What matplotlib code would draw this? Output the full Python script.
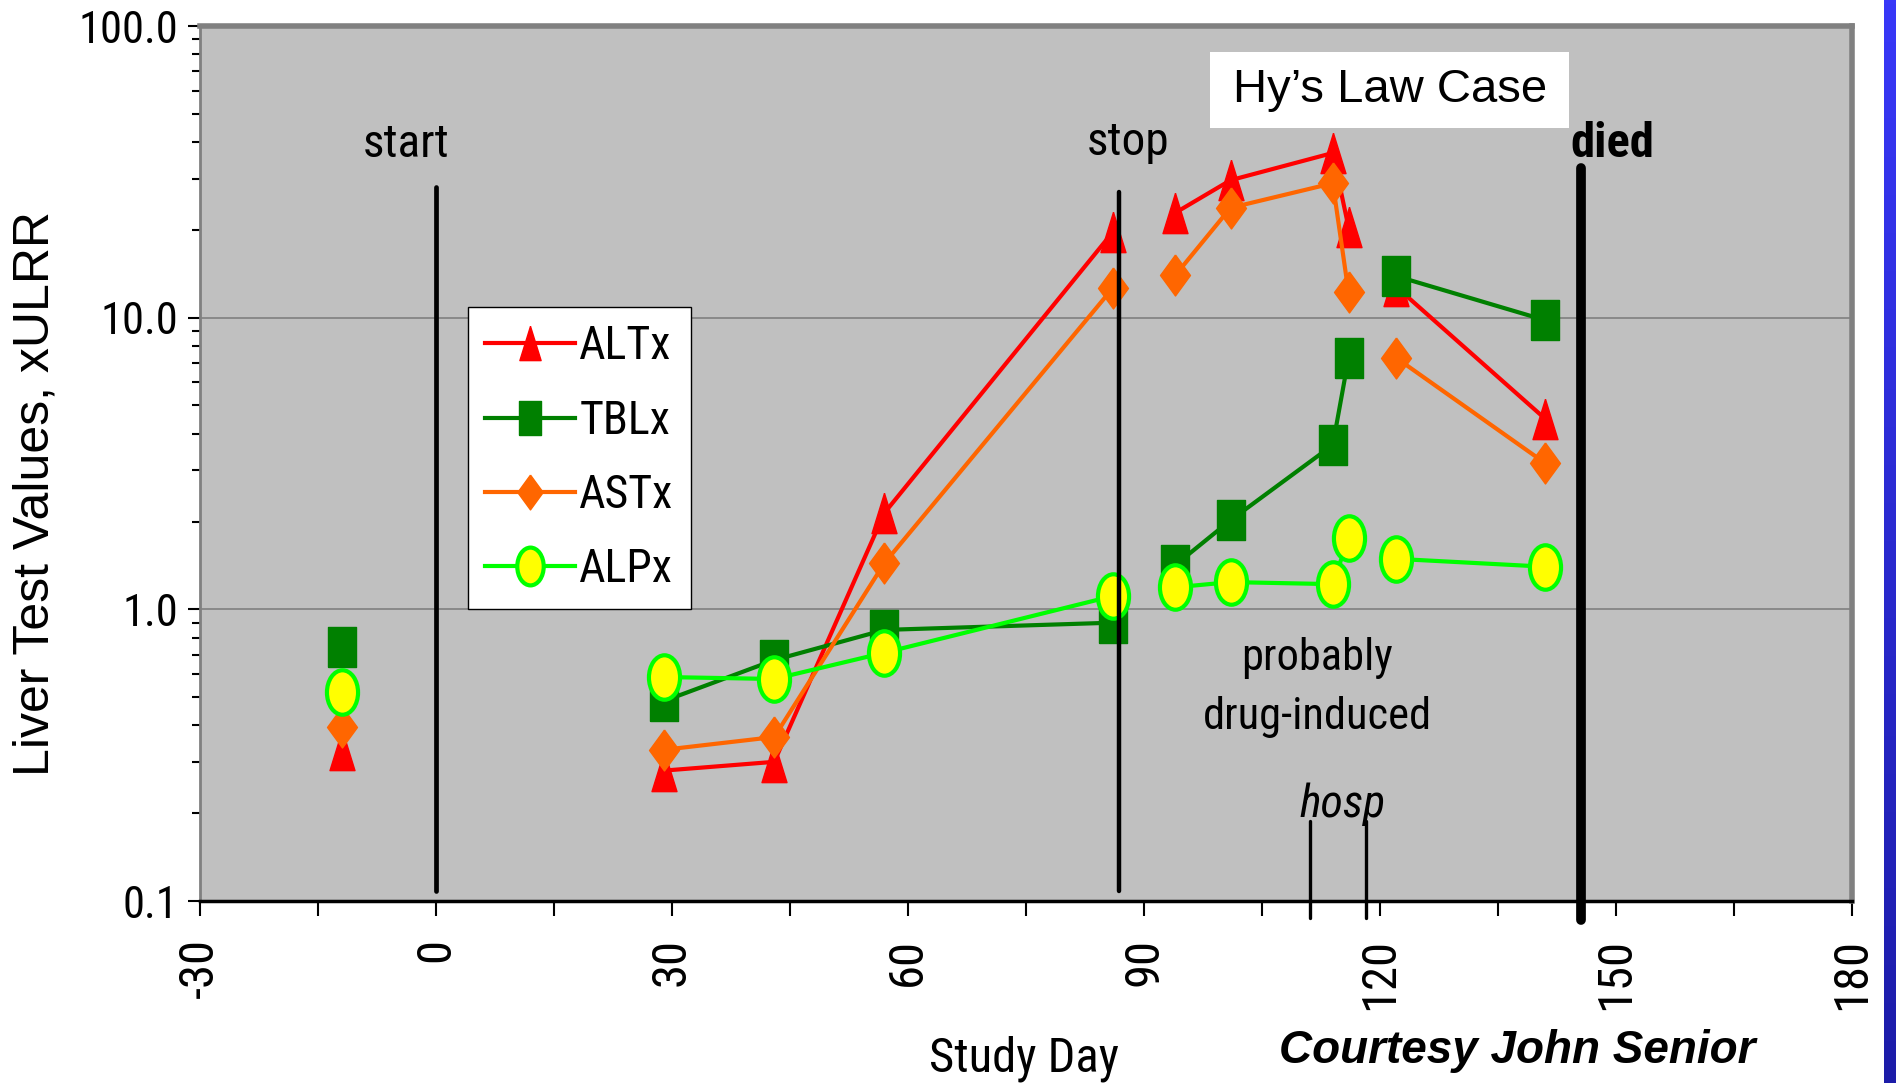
import numpy as np
import matplotlib
matplotlib.use('Agg')
import matplotlib.pyplot as plt
from matplotlib.path import Path
from matplotlib.transforms import Affine2D
from matplotlib.patches import Rectangle
from matplotlib.ticker import NullFormatter
from matplotlib.colors import LinearSegmentedColormap

nan = np.nan

# study day of each lab draw (nan = break in the line)
day = [-12, nan, 29, 43, 57, 86, nan, 94, 101, 114, 116, nan, 122, 141]

# liver tests, multiples of upper limit of reference range
alt = [0.33, nan, 0.28, 0.30, 2.14, 19.6, nan, 22.9, 29.6, 36.7, 20.4, nan, 12.8, 4.5]
tbl = [0.74, nan, 0.485, 0.67, 0.85, 0.90, nan, 1.42, 2.02, 3.66, 7.27, nan, 13.9, 9.8]
ast = [0.395, nan, 0.33, 0.365, 1.44, 12.6, nan, 14.0, 23.8, 28.9, 12.2, nan, 7.3, 3.17]
alp = [0.52, nan, 0.586, 0.577, 0.71, 1.11, nan, 1.19, 1.24, 1.22, 1.76, nan, 1.49, 1.40]

series_names = ['ALTx', 'TBLx', 'ASTx', 'ALPx']

# event days
start_day = 0
stop_day = 86.8
died_day = 145.5
hosp_days = [111.1, 118.2]

x_ticks = [-30, 0, 30, 60, 90, 120, 150, 180]
y_ticks = [0.1, 1, 10, 100]
y_labels = ['0.1', '1.0', '10.0', '100.0']

NARROW = ['Roboto Condensed', 'Liberation Sans', 'DejaVu Sans']
REG = ['Liberation Sans', 'DejaVu Sans']

# tall, narrow markers like the stretched excel chart
tri = [(0, 1), (0.62, -1), (-0.62, -1), (0, 1)]
sq = [(-0.66, -1), (0.66, -1), (0.66, 1), (-0.66, 1), (-0.66, -1)]
dia = [(0, 1), (0.73, 0), (0, -1), (-0.73, 0), (0, 1)]
ell = Path.unit_circle().transformed(Affine2D().scale(0.7, 1.0))

fig = plt.figure(figsize=(18.96, 10.83), dpi=100)
ax = fig.add_axes([200/1896, 1-901/1083, 1652/1896, 875/1083])
ax.set_facecolor('#C0C0C0')

ax.plot(day, alt, color='#FF0000', lw=3, marker=tri, ms=29,
        mfc='#FF0000', mec='#FF0000', mew=1, label=series_names[0])
ax.plot(day, tbl, color='#008000', lw=3, marker=sq, ms=29.5,
        mfc='#008000', mec='#008000', mew=1, label=series_names[1])
ax.plot(day, ast, color='#FF6600', lw=3, marker=dia, ms=29.5,
        mfc='#FF6600', mec='#FF6600', mew=1, label=series_names[2])
ax.plot(day, alp, color='#00FF00', lw=3, marker=ell, ms=32,
        mfc='#FFFF00', mec='#00FF00', mew=3, label=series_names[3])

ax.set_yscale('log')
ax.set_ylim(0.1, 100)
ax.set_xlim(-30, 180)
ax.set_yticks(y_ticks)
ax.set_yticklabels(y_labels, family=NARROW, fontsize=32)
ax.yaxis.set_minor_formatter(NullFormatter())
ax.set_xticks(x_ticks)
ax.set_xticks(np.arange(-15, 180, 30), minor=True)
ax.set_xticklabels([str(t) for t in x_ticks], family=NARROW, fontsize=35, rotation=90)
ax.tick_params(axis='y', which='major', length=8.6, width=1.5, pad=7)
ax.tick_params(axis='y', which='minor', length=5.8, width=1.5)
ax.tick_params(axis='x', which='both', length=10.8, width=1.5, pad=16)
ax.grid(axis='y', which='major', color='#808080', lw=1.2)
ax.set_axisbelow(True)

for s in ['top', 'right']:
    ax.spines[s].set_color('#808080')
    ax.spines[s].set_linewidth(4)
ax.spines['left'].set_color('#808080')
ax.spines['left'].set_linewidth(2)
ax.spines['bottom'].set_color('black')
ax.spines['bottom'].set_linewidth(2.5)

# event lines
ax.plot([start_day, start_day], [0.108, 28], color='black', lw=3.4,
        solid_capstyle='round', zorder=5)
ax.plot([stop_day, stop_day], [0.108, 27], color='black', lw=3.2,
        solid_capstyle='round', zorder=5)
ax.plot([died_day, died_day], [0.086, 32.6], color='black', lw=7,
        solid_capstyle='round', zorder=5, clip_on=False)
for h in hosp_days:
    ax.plot([h, h], [0.0875, 0.188], color='black', lw=2.4,
            solid_capstyle='round', zorder=5, clip_on=False)

ax.text(-3.8, 35.6, 'start', family=NARROW, fontsize=34, ha='center', va='baseline')
ax.text(88.0, 36, 'stop', family=NARROW, fontsize=34, ha='center', va='baseline')
ax.text(149.5, 35.6, 'died', family=NARROW, fontsize=35, fontweight='bold',
        ha='center', va='baseline')
ax.text(112, 0.62, 'probably', family=NARROW, fontsize=32, ha='center', va='baseline')
ax.text(112, 0.39, 'drug-induced', family=NARROW, fontsize=32, ha='center', va='baseline')
ax.text(115.2, 0.194, 'hosp', family=NARROW, fontsize=33, style='italic',
        ha='center', va='baseline')

leg = ax.legend(loc='upper left', bbox_to_anchor=(468/1896, 1-307/1083),
                bbox_transform=fig.transFigure, borderaxespad=0,
                prop={'family': NARROW, 'size': 33}, fancybox=False,
                framealpha=1, edgecolor='black', handlelength=1.95,
                handletextpad=0.1, borderpad=0.38, labelspacing=0.66,
                markerscale=0.85)
leg.get_frame().set_linewidth(1.0)
leg.set_zorder(6)

# title box
fig.add_artist(Rectangle((1210/1896, 1-128/1083), 359/1896, 76/1083,
                         transform=fig.transFigure, fc='white', ec='none', zorder=2))
fig.text(1390/1896, 1-90/1083, 'Hy\u2019s Law Case', family=REG, fontsize=34,
         ha='center', va='center', zorder=3)

fig.text(36/1896, 1-494/1083, 'Liver Test Values, xULRR', family=REG, fontsize=36,
         rotation=90, ha='center', va='center')
fig.text(1024/1896, 1-1072/1083, 'Study Day', family=NARROW, fontsize=35,
         ha='center', va='baseline')
fig.text(1517/1896, 1-1063/1083, 'Courtesy John Senior', family=REG, fontsize=33,
         fontweight='bold', style='italic', ha='center', va='baseline')

# blue strip at right edge
sx = fig.add_axes([1884/1896, 0, 12/1896, 1])
grad = np.linspace(0, 1, 256).reshape(-1, 1)
cm = LinearSegmentedColormap.from_list('b', ['#3838f8', '#1c1ca8'])
sx.imshow(grad, aspect='auto', cmap=cm)
sx.axis('off')

fig.savefig('out.png', dpi=100)
